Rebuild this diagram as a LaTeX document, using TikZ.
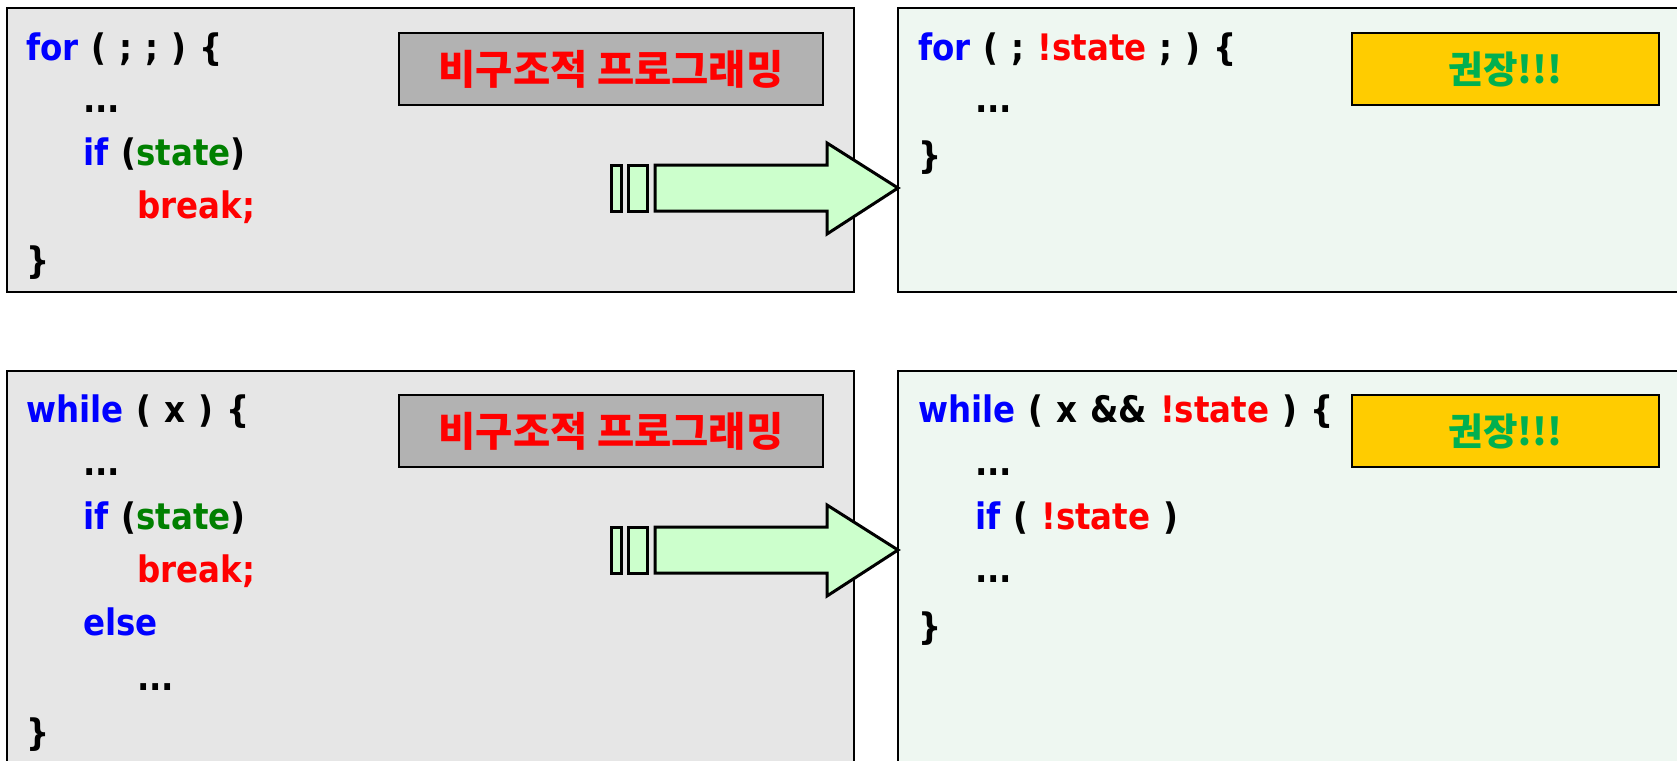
\documentclass[tikz,border=0pt]{standalone}
\usepackage{fontspec}
\setmainfont[FakeStretch=0.89]{DejaVu Sans}
\newfontfamily\kr{Noto Sans CJK KR}
\definecolor{leftgray}{HTML}{E6E6E6}
\definecolor{rightmint}{HTML}{EEF7F1}
\definecolor{labelgray}{HTML}{B2B2B2}
\definecolor{warnyellow}{HTML}{FFCC00}
\definecolor{arrowgreen}{HTML}{CCFFCC}
\definecolor{kwblue}{HTML}{0000FF}
\definecolor{stgreen}{HTML}{008000}
\definecolor{codered}{HTML}{FF0000}
\definecolor{krgreen}{HTML}{00B050}
\newcommand{\codefont}{\fontsize{36.5}{40}\selectfont\bfseries\spaceskip=13pt\relax}
\newcommand{\kw}[1]{\textcolor{kwblue}{#1}}
\newcommand{\rd}[1]{\textcolor{codered}{#1}}
\newcommand{\gr}[1]{\textcolor{stgreen}{#1}}
\begin{document}
\begin{tikzpicture}[x=1pt,y=-1pt,
  panel/.style={draw=black,line width=2pt,anchor=north west,inner sep=0pt},
  code/.style={anchor=base west,inner sep=0pt,font=\codefont},
  lbl/.style={draw=black,line width=2pt,minimum height=72pt,inner sep=0pt},
  arr/.style={draw=black,line width=3pt,fill=arrowgreen,line join=miter}]
\clip (0,0) rectangle (1677,760);
\fill[white] (0,0) rectangle (1677,760);
% panels
\node[panel,fill=leftgray,minimum width=847pt,minimum height=284pt] (p1) at (6,7) {};
\node[panel,fill=rightmint,minimum width=820pt,minimum height=284pt] (p2) at (897,7) {};
\node[panel,fill=leftgray,minimum width=847pt,minimum height=420pt] (p3) at (6,370) {};
\node[panel,fill=rightmint,minimum width=820pt,minimum height=420pt] (p4) at (897,370) {};
% labels
\node[lbl,fill=labelgray,minimum width=424pt] (l1) at (611,69) {\kr\bfseries\fontsize{40.5}{42}\selectfont\textcolor{codered}{비구조적 프로그래밍}};
\node[lbl,fill=labelgray,minimum width=424pt] (l3) at (611,431) {\kr\bfseries\fontsize{40.5}{42}\selectfont\textcolor{codered}{비구조적 프로그래밍}};
\node[lbl,fill=warnyellow,minimum width=307pt] (l2) at (1505.5,69) {\kr\bfseries\fontsize{37.5}{40}\selectfont\textcolor{krgreen}{권장!!!}};
\node[lbl,fill=warnyellow,minimum width=307pt] (l4) at (1505.5,431) {\kr\bfseries\fontsize{37.5}{40}\selectfont\textcolor{krgreen}{권장!!!}};
% arrows
\coordinate (tip1) at (898,188);
\coordinate (tip2) at (898,550);
\draw[arr] (611,165) rectangle (621,211);
\draw[arr] (628,165) rectangle (647,211);
\draw[arr] (655,165) -- (827,165) -- (827,143) -- (tip1) -- (827,234) -- (827,211) -- (655,211) -- cycle;
\draw[arr] (611,527) rectangle (621,573);
\draw[arr] (628,527) rectangle (647,573);
\draw[arr] (655,527) -- (827,527) -- (827,505) -- (tip2) -- (827,596) -- (827,573) -- (655,573) -- cycle;
% top-left code
\node[code] (a1) at (26,60) {\kw{for} ( ; ; ) \{};
\node[code] (a2) at (83,112) {...};
\node[code] (a3) at (83,165) {\kw{if} (\gr{state})};
\node[code] (a4) at (137,218) {\rd{break;}};
\node[code] (a5) at (26,273) {\}};
% top-right code
\node[code] (b1) at (918,60) {\kw{for} ( ; \rd{!state} ; ) \{};
\node[code] (b2) at (975,112) {...};
\node[code] (b3) at (918,168) {\}};
% bottom-left code
\node[code] (c1) at (26,422) {\kw{while} ( x ) \{};
\node[code] (c2) at (83,475) {...};
\node[code] (c3) at (83,529) {\kw{if} (\gr{state})};
\node[code] (c4) at (137,582) {\rd{break;}};
\node[code] (c5) at (83,635) {\kw{else}};
\node[code] (c6) at (137,690) {...};
\node[code] (c7) at (26,745) {\}};
% bottom-right code
\node[code] (d1) at (918,422) {\kw{while} ( x \&\& \rd{!state} ) \{};
\node[code] (d2) at (975,475) {...};
\node[code] (d3) at (975,529) {\kw{if} ( \rd{!state} )};
\node[code] (d4) at (975,582) {...};
\node[code] (d5) at (918,639) {\}};
\end{tikzpicture}
\end{document}
